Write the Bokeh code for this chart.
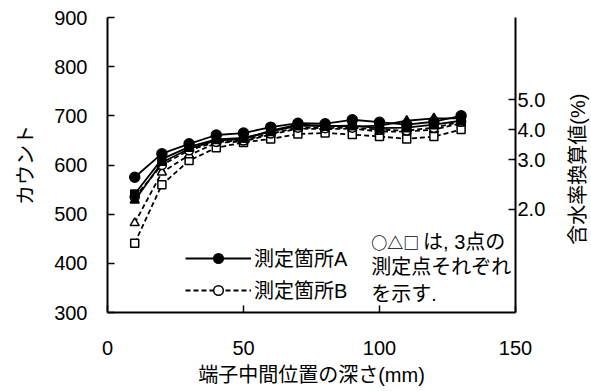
import math
from bokeh.plotting import figure
from bokeh.layouts import row
from bokeh.models import (LinearAxis, FixedTicker, Range1d, Legend, LegendItem, Label)
from bokeh.embed import file_html
from bokeh.resources import INLINE

# ---- data ----
depth = [10, 20, 30, 40, 50, 60, 70, 80, 90, 100, 110, 120, 130]
A1 = [575, 623, 643, 661, 665, 677, 685, 684, 692, 687, 682, 688, 700]  # filled circle
A2 = [528, 605, 633, 650, 652, 670, 682, 680, 678, 680, 690, 695, 695]  # filled triangle
A3 = [541, 612, 637, 652, 655, 668, 680, 679, 680, 675, 676, 682, 690]  # filled square
B1 = [535, 600, 630, 647, 650, 664, 676, 675, 676, 672, 670, 676, 688]  # open circle
B2 = [482, 585, 620, 645, 648, 662, 674, 673, 674, 668, 668, 672, 685]  # open triangle
B3 = [441, 560, 609, 635, 646, 653, 663, 665, 662, 658, 653, 658, 672]  # open square

x_ticks = [0, 50, 100, 150]
y_ticks = [300, 400, 500, 600, 700, 800, 900]
moisture_labels = ["2.0", "3.0", "4.0", "5.0"]
moisture_counts = [510, 611, 672, 733]
moisture_title = "含水率換算値(%)"

note_symbols = "○△□"
note_lines = ["は, 3点の", "測定点それぞれ", "を示す."]

FONT = "'Liberation Sans', 'Noto Sans CJK JP'"
FS = "20px"

p = figure(width=563, height=391, output_backend="svg", toolbar_location=None,
           x_range=Range1d(0, 150), y_range=Range1d(300, 900),
           min_border_left=107, min_border_right=48, min_border_top=17, min_border_bottom=79)
p.outline_line_color = None
p.xgrid.visible = False
p.ygrid.visible = False
p.background_fill_color = "white"
p.border_fill_color = "white"

def style_axis(ax):
    ax.axis_line_color = "black"
    ax.axis_line_width = 2
    ax.major_tick_in = 7
    ax.major_tick_out = 0
    ax.major_tick_line_width = 1.5
    ax.minor_tick_line_color = None
    ax.major_label_text_font = FONT
    ax.major_label_text_font_size = FS
    ax.major_label_text_color = "black"
    ax.axis_label_text_font = FONT
    ax.axis_label_text_font_size = FS
    ax.axis_label_text_font_style = "normal"
    ax.axis_label_text_color = "black"

xa = p.xaxis[0]
xa.ticker = FixedTicker(ticks=x_ticks)
xa.axis_label = "端子中間位置の深さ(mm)"
style_axis(xa)
xa.major_label_standoff = 28
xa.axis_label_standoff = 6

ya = p.yaxis[0]
ya.ticker = FixedTicker(ticks=y_ticks)
ya.axis_label = "カウント"
style_axis(ya)
ya.major_label_standoff = 20
ya.axis_label_standoff = 14

ra = LinearAxis(ticker=FixedTicker(ticks=moisture_counts),
                major_label_overrides={c: l for c, l in zip(moisture_counts, moisture_labels)})
style_axis(ra)
ra.major_label_standoff = 2
p.add_layout(ra, "right")

LW = 1.8
DASH = "5 3"

def series(y, marker, filled, dashed, size):
    ln = p.line(depth, y, line_color="black", line_width=LW,
                line_dash=DASH if dashed else "solid")
    sc = p.scatter(depth, y, marker=marker, size=size, line_color="black", line_width=1.5,
                   fill_color="black" if filled else "white")
    return ln, sc

lB3, sB3 = series(B3, "square", False, True, 8)
lB2, sB2 = series(B2, "triangle", False, True, 9)
lB1, sB1 = series(B1, "circle", False, True, 9)
lA3, sA3 = series(A3, "square", True, False, 8)
lA2, sA2 = series(A2, "triangle", True, False, 9)
lA1, sA1 = series(A1, "circle", True, False, 10)

legend = Legend(items=[LegendItem(label="測定箇所A", renderers=[lA1, sA1]),
                       LegendItem(label="測定箇所B", renderers=[lB1, sB1])],
                location=(78, 8), glyph_width=66, glyph_height=24, spacing=3,
                label_standoff=3, padding=0, margin=0,
                border_line_color=None, background_fill_alpha=0,
                label_text_font=FONT, label_text_font_size=FS, label_text_color="black")
p.add_layout(legend)

note_y = [443, 392, 338.6]
p.add_layout(Label(x=97.0, y=note_y[0], text=note_symbols, text_font="Noto Sans CJK JP",
                   text_font_size="16px", text_font_style="bold",
                   text_baseline="middle", text_color="black"))
p.add_layout(Label(x=116.0, y=note_y[0], text=note_lines[0], text_font=FONT, text_font_size=FS,
                   text_baseline="middle", text_color="black"))
for t, yy in zip(note_lines[1:], note_y[1:]):
    p.add_layout(Label(x=97.0, y=yy, text=t, text_font=FONT, text_font_size=FS,
                       text_baseline="middle", text_color="black"))

# narrow side panel carrying the right-axis title (reads bottom-to-top)
p2 = figure(width=28, height=391, output_backend="svg", toolbar_location=None,
            x_range=Range1d(0, 1), y_range=Range1d(0, 1),
            x_axis_type=None, y_axis_type=None,
            min_border_left=0, min_border_right=0, min_border_top=0, min_border_bottom=0)
p2.outline_line_color = None
p2.xgrid.visible = False
p2.ygrid.visible = False
p2.background_fill_color = "white"
p2.border_fill_color = "white"
p2.add_layout(Label(x=0.5, y=0.486, text=moisture_title, angle=math.pi / 2,
                    text_font=FONT, text_font_size=FS, text_align="center",
                    text_baseline="middle", text_color="black"))

layout = row(p, p2, spacing=0)
open("out.html", "w").write(file_html(layout, INLINE))
